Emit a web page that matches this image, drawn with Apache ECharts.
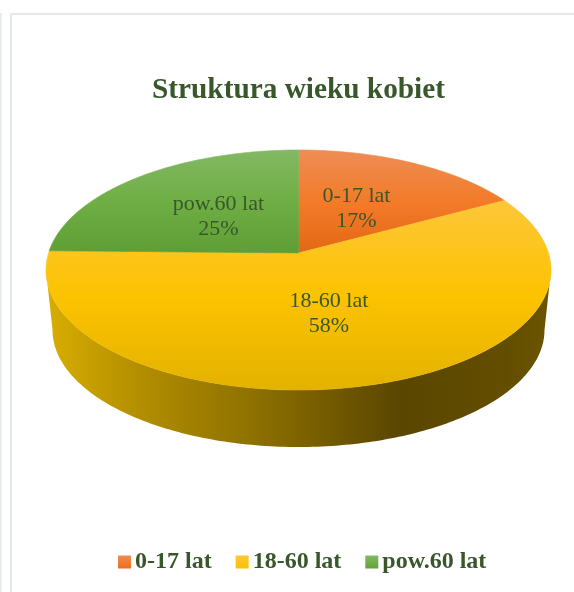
<!DOCTYPE html>
<html>
<head>
<meta charset="utf-8">
<title>Struktura wieku kobiet</title>
<script src="https://cdn.jsdelivr.net/npm/echarts@6/dist/echarts.min.js"></script>
<style>
  html, body { margin: 0; padding: 0; background: #fff; }
  #chart { width: 574px; height: 592px; }
</style>
</head>
<body>
<div id="chart"></div>
<script>
const categories = ['0-17 lat', '18-60 lat', 'pow.60 lat']
const values = [17.1, 58.2, 24.7]

const FONT = '"Liberation Serif", "Times New Roman", serif'
const TEXT_COLOR = '#38572a'

const vertical = (stops) => ({
  type: 'linear', x: 0, y: 0, x2: 0, y2: 1,
  colorStops: stops.map(([offset, color]) => ({ offset, color }))
})

const sliceFill = [
  vertical([[0, '#ee8d55'], [0.5, '#f37b29'], [1, '#e36815']]),
  vertical([[0, '#fdc73a'], [0.5, '#fcc300'], [1, '#e3b200']]),
  vertical([[0, '#83b963'], [0.5, '#6fae44'], [1, '#5f9e34']])
]
const legendFill = [
  vertical([[0, '#ee8d55'], [1, '#ee6c1b']]),
  vertical([[0, '#fdc73a'], [1, '#fcc000']]),
  vertical([[0, '#83b963'], [1, '#62a336']])
]
const wallFill = {
  type: 'linear', x: 0, y: 0, x2: 1, y2: 0,
  colorStops: [
    { offset: 0, color: '#d9ad00' },
    { offset: 0.2, color: '#b08c00' },
    { offset: 0.42, color: '#8c6f00' },
    { offset: 0.7, color: '#5a4600' },
    { offset: 0.9, color: '#624d00' },
    { offset: 1, color: '#6b5500' }
  ]
}

// flattened disc: top and bottom face as seen with some perspective
const topFace = { cx: 298.5, cy: 270, rx: 252.5, ry: 120 }
const bottomFace = { cx: 298.5, cy: 330, rx: 246, ry: 117 }
const PERSPECTIVE = 0.1417

// angle in radians clockwise from 12 o'clock, r 0..1
const project = (face, angle, r = 1) => {
  const u = r * Math.sin(angle)
  const v = -r * Math.cos(angle)
  const d = 1 - PERSPECTIVE * v
  return [
    face.cx + face.rx * Math.sqrt(1 - PERSPECTIVE * PERSPECTIVE) * u / d,
    face.cy + face.ry * (v - PERSPECTIVE) / d
  ]
}

const total = values.reduce((a, b) => a + b, 0)
const ranges = []
values.reduce((acc, v) => {
  const next = acc + v
  ranges.push([acc / total * Math.PI * 2, next / total * Math.PI * 2])
  return next
}, 0)

const arc = (face, [start, end]) => {
  const steps = Math.max(8, Math.ceil((end - start) * 60))
  const pts = []
  for (let i = 0; i <= steps; i++) {
    pts.push(project(face, start + (end - start) * i / steps))
  }
  return pts
}

// the wall only shows between the two silhouette points of the disc
const WALL_START = Math.acos(-PERSPECTIVE)
const WALL_END = Math.PI * 2 - WALL_START

const wallSeries = {
  type: 'custom',
  name: 'wall',
  coordinateSystem: 'none',
  silent: true,
  z: 1,
  data: values.map((v, i) => [i, v]),
  renderItem: (params, api) => {
    const [start, end] = ranges[api.value(0)]
    const range = [Math.max(start, WALL_START), Math.min(end, WALL_END)]
    if (range[0] >= range[1]) return null
    const points = arc(topFace, range).concat(arc(bottomFace, range).reverse())
    return { type: 'polygon', shape: { points }, style: { fill: wallFill } }
  }
}

const topSeries = categories.map((name, i) => ({
  type: 'custom',
  name,
  coordinateSystem: 'none',
  silent: true,
  z: 2,
  itemStyle: { color: legendFill[i] },
  data: [[i, values[i]]],
  renderItem: (params, api) => {
    const idx = api.value(0)
    const range = ranges[idx]
    const points = [project(topFace, 0, 0)].concat(arc(topFace, range))
    const [lx, ly] = project(topFace, (range[0] + range[1]) / 2, 0.48)
    return {
      type: 'group',
      children: [
        {
          type: 'polygon',
          shape: { points },
          style: { fill: sliceFill[idx], stroke: sliceFill[idx], lineWidth: 0.6 }
        },
        {
          type: 'text',
          z2: 10,
          style: {
            x: lx,
            y: ly + 2,
            text: `${categories[idx]}\n${Math.round(api.value(1))}%`,
            font: `22px ${FONT}`,
            lineHeight: 25,
            fill: TEXT_COLOR,
            align: 'center',
            verticalAlign: 'middle'
          }
        }
      ]
    }
  }
}))

const chart = echarts.init(document.getElementById('chart'), null, { renderer: 'canvas' })

chart.setOption({
  animation: false,
  backgroundColor: '#fff',
  title: {
    text: 'Struktura wieku kobiet',
    left: 298.5,
    top: 76,
    padding: 0,
    textAlign: 'center',
    textStyle: { fontFamily: FONT, fontSize: 29.3, fontWeight: 'bold', color: TEXT_COLOR }
  },
  legend: {
    left: 118,
    top: 550,
    itemWidth: 13,
    itemHeight: 13,
    itemGap: 24,
    padding: 0,
    selectedMode: false,
    textStyle: { fontFamily: FONT, fontSize: 24, fontWeight: 'bold', color: TEXT_COLOR, padding: [0, 0, 0, -1] },
    data: categories.map((name, i) => ({ name, icon: 'rect', itemStyle: { color: legendFill[i] } }))
  },
  graphic: [
    { type: 'rect', silent: true, shape: { x: 0, y: 13, width: 1.5, height: 579 }, style: { fill: '#e3e8ef' } },
    { type: 'rect', silent: true, shape: { x: 10, y: 13, width: 2, height: 579 }, style: { fill: '#e3e8ef' } },
    { type: 'rect', silent: true, shape: { x: 10, y: 13, width: 564, height: 2 }, style: { fill: '#e3e8ef' } }
  ],
  series: [wallSeries].concat(topSeries)
})
</script>
</body>
</html>
